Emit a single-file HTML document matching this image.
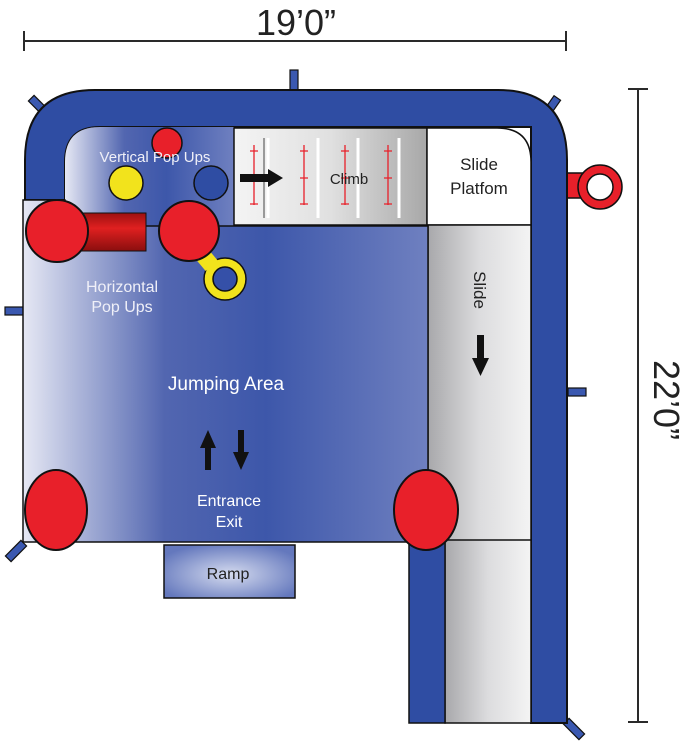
<!DOCTYPE html>
<html><head><meta charset="utf-8"><style>
html,body{margin:0;padding:0;background:#fff;width:681px;height:750px;overflow:hidden}
svg{display:block}
text{font-family:"Liberation Sans",sans-serif}
</style></head><body>
<svg width="681" height="750" viewBox="0 0 681 750" xmlns="http://www.w3.org/2000/svg">
<defs>
<linearGradient id="jump" x1="0" x2="1" y1="0" y2="0">
<stop offset="0" stop-color="#e6e8f4"/><stop offset="0.35" stop-color="#5266b0"/><stop offset="0.6" stop-color="#3d57aa"/><stop offset="1" stop-color="#6f80c0"/>
</linearGradient>
<linearGradient id="climb" x1="0" x2="1"><stop offset="0" stop-color="#f4f4f4"/><stop offset="0.5" stop-color="#e0e0e0"/><stop offset="1" stop-color="#a8a8a8"/></linearGradient>
<linearGradient id="slide" x1="0" x2="1"><stop offset="0" stop-color="#a8a8ab"/><stop offset="0.5" stop-color="#dcdcde"/><stop offset="1" stop-color="#f4f4f4"/></linearGradient>
<radialGradient id="ramp" cx="0.5" cy="0.55" r="0.6"><stop offset="0" stop-color="#d5dbef"/><stop offset="1" stop-color="#6478bd"/></radialGradient>
<linearGradient id="cyl" x1="0" x2="0" y1="0" y2="1"><stop offset="0" stop-color="#9c1010"/><stop offset="0.4" stop-color="#e02020"/><stop offset="1" stop-color="#8a0e0e"/></linearGradient>
</defs>
<!-- dimension lines -->
<g stroke="#2a2a2a" stroke-width="2">
<line x1="23" y1="41" x2="566" y2="41"/><line x1="24" y1="31" x2="24" y2="51"/><line x1="566" y1="31" x2="566" y2="51"/>
<line x1="638" y1="89" x2="638" y2="722"/><line x1="628" y1="89" x2="648" y2="89"/><line x1="628" y1="722" x2="648" y2="722"/>
</g>
<text x="296" y="35" font-size="36" text-anchor="middle" fill="#222">19’0”</text>
<text transform="translate(654,400) rotate(90)" font-size="36" text-anchor="middle" fill="#222">22’0”</text>
<!-- stakes -->
<g fill="#3a58b0" stroke="#111" stroke-width="1.2">
<rect x="290" y="70" width="8" height="22"/>
<rect x="35" y="95" width="8" height="22" transform="rotate(-45 39 106)"/>
<rect x="547" y="96" width="8" height="22" transform="rotate(35 551 107)"/>
<rect x="5" y="307" width="20" height="8"/>
<rect x="568" y="388" width="18" height="8"/>
<rect x="5" y="547" width="22" height="8" transform="rotate(-45 16 551)"/>
<rect x="563" y="725" width="22" height="8" transform="rotate(45 574 729)"/>
</g>
<!-- red anchor right -->
<rect x="566" y="173" width="20" height="25" fill="#e8202a" stroke="#111" stroke-width="1.5"/>
<circle cx="600" cy="187" r="22" fill="#e8202a" stroke="#111" stroke-width="1.5"/>
<circle cx="600" cy="187" r="13" fill="#fff" stroke="#111" stroke-width="1.5"/>
<!-- outer frame -->
<path d="M25 200 L25 160 Q25 90 95 90 L498 90 Q567 90 567 160 L567 723 L531 723 L531 127 L100 127 Q65 127 65 162 L65 200 Z" fill="#2f4da3" stroke="#111" stroke-width="2"/>
<!-- vertical pop-up area background -->
<path d="M65 200 L65 162 Q65 127 100 127 L234 127 L234 226 L65 226 Z" fill="url(#jump)"/>
<!-- climb -->
<rect x="234" y="128" width="193" height="97" fill="url(#climb)" stroke="#111" stroke-width="1.5"/>
<g stroke="#fff" stroke-width="3"><line x1="268" y1="138" x2="268" y2="218"/><line x1="318" y1="138" x2="318" y2="218"/><line x1="358" y1="138" x2="358" y2="218"/><line x1="399" y1="138" x2="399" y2="218"/></g>
<g stroke="#999" stroke-width="2"><line x1="264" y1="138" x2="264" y2="218"/></g>
<g stroke="#e8202a" stroke-width="1.3">
<line x1="254" y1="145" x2="254" y2="205"/><line x1="304" y1="145" x2="304" y2="205"/><line x1="345" y1="145" x2="345" y2="205"/><line x1="388" y1="145" x2="388" y2="205"/>
<path d="M250 151h8M250 178h8M250 204h8M300 151h8M300 178h8M300 204h8M341 151h8M341 178h8M341 204h8M384 151h8M384 178h8M384 204h8"/>
</g>
<path d="M240 174 L268 174 L268 169 L283 178 L268 187 L268 182 L240 182 Z" fill="#111"/>
<text x="349" y="184" font-size="15" text-anchor="middle" fill="#222">Climb</text>
<!-- slide platform -->
<path d="M427 128 L497 128 Q531 128 531 162 L531 225 L427 225 Z" fill="#fff" stroke="#111" stroke-width="1.5"/>
<text x="479" y="170" font-size="17" text-anchor="middle" fill="#222">Slide</text>
<text x="479" y="194" font-size="17" text-anchor="middle" fill="#222">Platfom</text>
<!-- slide -->
<rect x="428" y="225" width="103" height="320" fill="url(#slide)" stroke="#111" stroke-width="1.5"/>
<rect x="445" y="540" width="86" height="183" fill="url(#slide)" stroke="#111" stroke-width="1.5"/>
<rect x="409" y="540" width="36" height="183" fill="#2f4da3" stroke="#111" stroke-width="1.5"/>
<text transform="translate(474,290) rotate(90)" font-size="17" text-anchor="middle" fill="#222">Slide</text>
<path d="M477 335 h7 v23 h5 l-8.5 18 l-8.5 -18 h5 Z" fill="#111"/>
<!-- jumping area -->
<path d="M23 200 L65 200 L65 226 L428 226 L428 542 L23 542 Z" fill="url(#jump)" stroke="#111" stroke-width="1.5"/>
<line x1="65" y1="200" x2="65" y2="226" stroke="none"/>
<!-- ramp -->
<rect x="164" y="545" width="131" height="53" fill="url(#ramp)" stroke="#111" stroke-width="1.5"/>
<text x="228" y="579" font-size="16" text-anchor="middle" fill="#222">Ramp</text>
<!-- vertical pop-ups -->
<circle cx="167" cy="143" r="15" fill="#e8202a" stroke="#111" stroke-width="1.5"/>
<circle cx="126" cy="183" r="17" fill="#f2e31c" stroke="#111" stroke-width="1.5"/>
<circle cx="211" cy="183" r="17" fill="#2f4da3" stroke="#111" stroke-width="1.5"/>
<text x="155" y="162" font-size="15" text-anchor="middle" fill="#f0f0f8">Vertical Pop Ups</text>
<!-- horizontal pop-ups -->
<rect x="80" y="213" width="66" height="38" fill="url(#cyl)" stroke="#111" stroke-width="1"/>
<circle cx="57" cy="231" r="31" fill="#e8202a" stroke="#111" stroke-width="2"/>
<circle cx="225" cy="279" r="21" fill="#f2e31c" stroke="#111" stroke-width="1.5"/>
<circle cx="225" cy="279" r="12" fill="#3550a8" stroke="#111" stroke-width="1.5"/>
<rect x="198" y="250" width="16" height="18" fill="#f2e31c" transform="rotate(-40 206 259)"/>
<circle cx="189" cy="231" r="30" fill="#e8202a" stroke="#111" stroke-width="2"/>
<text x="122" y="292" font-size="16" text-anchor="middle" fill="#f0f0f8">Horizontal</text>
<text x="122" y="312" font-size="16" text-anchor="middle" fill="#f0f0f8">Pop Ups</text>
<text x="226" y="390" font-size="19" text-anchor="middle" fill="#fff">Jumping Area</text>
<path d="M205 470 v-22 h-5 l8 -18 l8 18 h-5 v22 Z" fill="#111"/>
<path d="M238 430 v22 h-5 l8 18 l8 -18 h-5 v-22 Z" fill="#111"/>
<text x="229" y="506" font-size="16" text-anchor="middle" fill="#fff">Entrance</text>
<text x="229" y="527" font-size="16" text-anchor="middle" fill="#fff">Exit</text>
<!-- corner red circles -->
<ellipse cx="56" cy="510" rx="31" ry="40" fill="#e8202a" stroke="#111" stroke-width="2"/>
<ellipse cx="426" cy="510" rx="32" ry="40" fill="#e8202a" stroke="#111" stroke-width="2"/>
</svg>
</body></html>
